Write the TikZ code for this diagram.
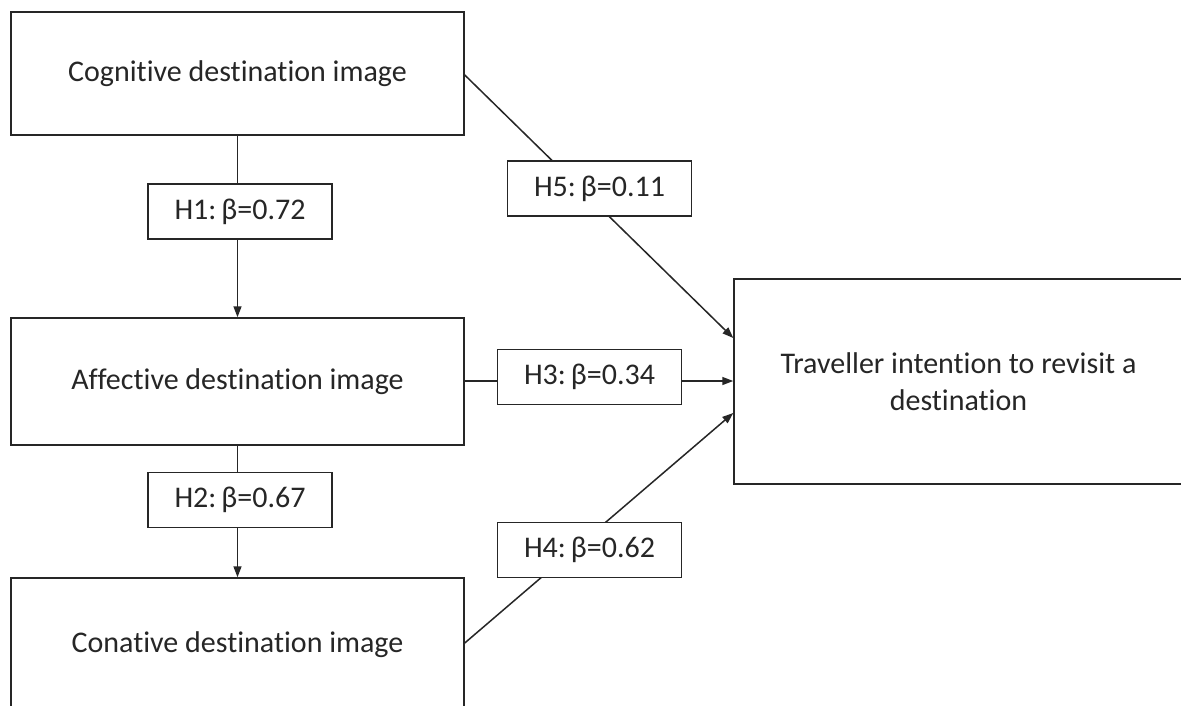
\documentclass[tikz,border=0pt]{standalone}
\usepackage{fontspec}
\setmainfont[Ligatures={NoCommon}]{Carlito}
\usetikzlibrary{arrows.meta}
\tikzset{
  box/.style={draw=black!85, line width=1.5pt, inner sep=0pt, align=center, text=black!85, font=\fontsize{30}{37}\selectfont},
  lab/.style={box, fill=white, minimum width=184pt, minimum height=55pt},
  conn/.style={draw=black!85, line width=1.5pt},
  arr/.style={conn, -{Triangle[length=11pt,width=8pt]}}
}
\begin{document}
\begin{tikzpicture}[x=1pt,y=-1pt]
\clip (0,0) rectangle (1181,705);
\fill[white] (0,0) rectangle (1181,705);
% main boxes
\node[box, minimum width=453pt, minimum height=123pt] (cog) at (237.5,73.5) {Cognitive destination image};
\node[box, minimum width=453pt, minimum height=127pt] (aff) at (237.5,381.5) {Affective destination image};
\node[box, minimum width=453pt, minimum height=134pt] (con) at (237.5,645) {Conative destination image};
\node[box, minimum width=449pt, minimum height=205pt] (trav) at (958.5,381.5) {Traveller intention to revisit a\\destination};
% connectors
\draw[arr] (cog.south) -- (aff.north);
\draw[arr] (aff.south) -- (con.north);
\draw[arr] (cog.east |- 0,75) -- (trav.west |- 0,338);
\draw[arr] (aff.east |- 0,381) -- (trav.west |- 0,381);
\draw[arr] (con.east |- 0,643) -- (trav.west |- 0,413);
% labels
\node[lab] (h1) at (240,211.5) {H1:\,β=0.72};
\node[lab] (h2) at (240,500) {H2:\,β=0.67};
\node[lab] (h3) at (589.5,377) {H3:\,β=0.34};
\node[lab] (h4) at (589.5,550) {H4:\,β=0.62};
\node[lab] (h5) at (599.5,188.5) {H5:\,β=0.11};
\end{tikzpicture}
\end{document}
